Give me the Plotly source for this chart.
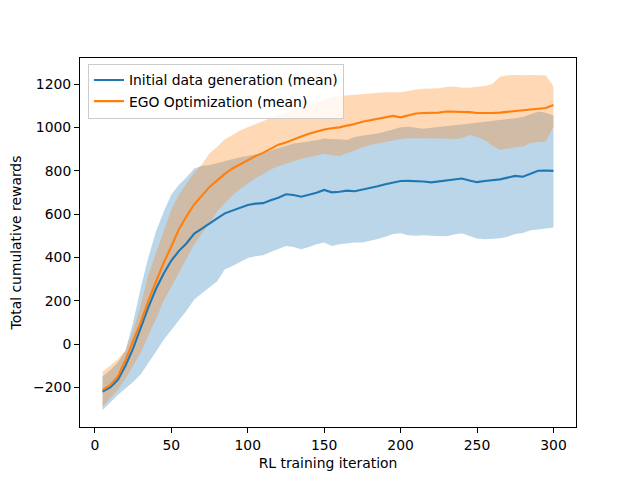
import plotly.graph_objects as go

iterations = list(range(5, 305, 5))

init_mean = [-220, -200, -165, -100, -20, 80, 170, 255, 325, 385, 430, 465, 510, 532, 558, 580, 603, 615, 628, 642,
             648, 650, 663, 675, 691, 688, 680, 688, 698, 711, 700, 703, 708, 705, 712, 720, 728, 737, 745, 752,
             753, 753, 750, 746, 750, 754, 758, 764, 755, 747, 752, 756, 760, 768, 776, 772, 786, 800, 801, 799]
init_lower = [-305, -270, -235, -205, -175, -140, -90, -35, 20, 65, 105, 155, 205, 235, 262, 290, 345, 360, 380, 397,
              405, 410, 425, 440, 452, 448, 437, 448, 460, 468, 452, 460, 465, 468, 468, 475, 485, 495, 508, 511,
              502, 500, 502, 500, 497, 497, 505, 511, 498, 487, 483, 485, 488, 495, 508, 512, 525, 528, 532, 538]
init_upper = [-150, -120, -85, -30, 100, 260, 400, 520, 610, 690, 735, 770, 810, 822, 826, 835, 845, 852, 862, 868,
              875, 882, 893, 903, 915, 925, 930, 934, 940, 949, 945, 945, 942, 955, 962, 967, 972, 980, 990, 1000,
              1003, 998, 993, 998, 1003, 1005, 1010, 1013, 1017, 1019, 1023, 1028, 1032, 1037, 1042, 1048, 1060, 1073, 1067, 1055]

ego_mean = [-212, -190, -150, -75, 15, 100, 200, 290, 375, 450, 530, 590, 645, 685, 725, 755, 785, 810, 830, 848,
            867, 882, 900, 920, 930, 945, 958, 970, 980, 990, 996, 1000, 1008, 1015, 1026, 1032, 1040, 1046, 1053, 1046,
            1056, 1064, 1066, 1067, 1068, 1073, 1072, 1072, 1070, 1066, 1065, 1066, 1068, 1071, 1075, 1079, 1083, 1086, 1089, 1103]
ego_lower = [-289, -250, -212, -160, -100, -40, 40, 115, 200, 265, 330, 400, 460, 510, 560, 610, 650, 685, 715, 740,
             765, 785, 805, 820, 832, 842, 855, 862, 870, 878, 872, 868, 880, 895, 908, 918, 925, 935, 942, 946,
             950, 950, 950, 950, 950, 948, 945, 950, 965, 955, 940, 915, 896, 903, 908, 912, 928, 932, 935, 1003]
ego_upper = [-128, -100, -70, -30, 60, 180, 320, 420, 520, 620, 690, 740, 790, 830, 880, 910, 945, 965, 985, 1000,
             1015, 1030, 1045, 1057, 1068, 1078, 1090, 1100, 1110, 1125, 1140, 1145, 1148, 1152, 1155, 1158, 1162, 1162, 1162, 1162,
             1168, 1175, 1178, 1180, 1180, 1186, 1188, 1183, 1183, 1187, 1191, 1200, 1234, 1240, 1242, 1240, 1242, 1240, 1240, 1190]

label_init = "Initial data generation (mean)"
label_ego = "EGO Optimization (mean)"

C0 = "#1f77b4"
C1 = "#ff7f0e"
FONT = dict(family="DejaVu Sans", size=13.9, color="black")

fig = go.Figure()
# bands
fig.add_trace(go.Scatter(x=iterations, y=init_lower, mode="lines", line=dict(width=0), showlegend=False, hoverinfo="skip"))
fig.add_trace(go.Scatter(x=iterations, y=init_upper, mode="lines", line=dict(width=0), fill="tonexty",
                         fillcolor="rgba(31,119,180,0.3)", showlegend=False, hoverinfo="skip"))
fig.add_trace(go.Scatter(x=iterations, y=ego_lower, mode="lines", line=dict(width=0), showlegend=False, hoverinfo="skip"))
fig.add_trace(go.Scatter(x=iterations, y=ego_upper, mode="lines", line=dict(width=0), fill="tonexty",
                         fillcolor="rgba(255,127,14,0.3)", showlegend=False, hoverinfo="skip"))
# means
fig.add_trace(go.Scatter(x=iterations, y=init_mean, mode="lines", line=dict(color=C0, width=2.1), name=label_init))
fig.add_trace(go.Scatter(x=iterations, y=ego_mean, mode="lines", line=dict(color=C1, width=2.1), name=label_ego))

axis_common = dict(showline=True, linecolor="black", linewidth=1, mirror=True, ticks="outside",
                   ticklen=5, tickwidth=1, tickcolor="black", showgrid=False, zeroline=False,
                   automargin=False, tickfont=FONT)

fig.update_layout(
    width=632, height=472,
    margin=dict(l=72, r=64, t=50, b=53),
    paper_bgcolor="white", plot_bgcolor="white",
    font=FONT,
    legend=dict(x=0.016, y=0.985, xanchor="left", yanchor="top", traceorder="normal",
                bgcolor="rgba(255,255,255,0.8)", bordercolor="#cccccc", borderwidth=1,
                font=FONT, itemwidth=30, tracegroupgap=0),
    xaxis=dict(range=[-9.75, 314.75], dtick=50, tick0=0,
               title=dict(text="RL training iteration", standoff=6, font=FONT), **axis_common),
    yaxis=dict(range=[-383, 1320], dtick=200, tick0=0,
               title=dict(text="Total cumulative rewards", standoff=10, font=FONT), **axis_common),
)

fig.write_html("out.html")
